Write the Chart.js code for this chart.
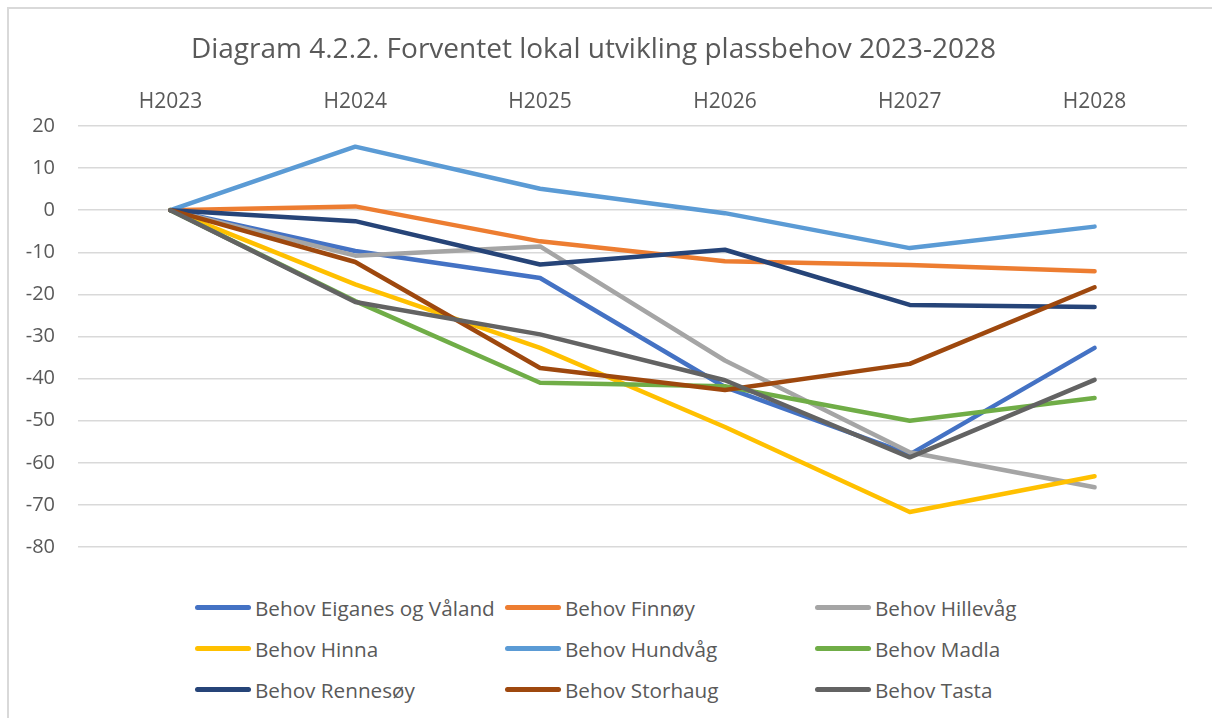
<!DOCTYPE html>
<html>
<head>
<meta charset="utf-8">
<script src="https://cdn.jsdelivr.net/npm/chart.js@4"></script>
<style>
    body { margin: 0; background: #fff; font-family: "Open Sans", sans-serif; }
    .frame { position: absolute; left: 7px; top: 7px; width: 1210px; height: 720px;
             border-left: 2px solid #d9d9d9; border-top: 2px solid #d9d9d9; }
    #plassChart { position: absolute; left: 0; top: 0; }
    #legend { position: absolute; left: 195px; top: 587px; display: grid;
              grid-template-columns: 310px 310px 310px; grid-auto-rows: 41px; }
    .item { display: flex; align-items: center; height: 41px; color: #595959; font-size: 20.7px; white-space: nowrap; }
    .swatch { width: 56px; height: 5px; border-radius: 3px; margin-right: 4px; }
</style>
</head>
<body>
<div class="frame"></div>
<canvas id="plassChart" width="1212" height="582"></canvas>
<div id="legend"></div>
<script>
const categories = ["H2023", "H2024", "H2025", "H2026", "H2027", "H2028"];

const eiganes  = [0, -9.7, -16.1, -42.0, -58.0, -32.7];
const finnoy   = [0, 0.9, -7.4, -12.1, -13.0, -14.5];
const hillevag = [0, -10.8, -8.6, -35.7, -57.5, -65.8];
const hinna    = [0, -17.6, -32.7, -51.5, -71.7, -63.2];
const hundvag  = [0, 15.1, 5.1, -0.7, -9.0, -3.9];
const madla    = [0, -21.6, -41.0, -41.8, -50.0, -44.6];
const rennesoy = [0, -2.6, -12.9, -9.4, -22.5, -23.0];
const storhaug = [0, -12.3, -37.5, -42.7, -36.5, -18.3];
const tasta    = [0, -21.8, -29.5, -40.4, -58.7, -40.3];

const yTicks = [20, 10, 0, -10, -20, -30, -40, -50, -60, -70, -80];

const series = [
    { label: "Behov Eiganes og Våland", data: eiganes, color: "#4472C4" },
    { label: "Behov Finnøy", data: finnoy, color: "#ED7D31" },
    { label: "Behov Hillevåg", data: hillevag, color: "#A5A5A5" },
    { label: "Behov Hinna", data: hinna, color: "#FFC000" },
    { label: "Behov Hundvåg", data: hundvag, color: "#5B9BD5" },
    { label: "Behov Madla", data: madla, color: "#70AD47" },
    { label: "Behov Rennesøy", data: rennesoy, color: "#264478" },
    { label: "Behov Storhaug", data: storhaug, color: "#9E480E" },
    { label: "Behov Tasta", data: tasta, color: "#636363" },
];

const textColor = "#595959";

new Chart(document.getElementById("plassChart"), {
    type: "line",
    data: {
        labels: categories,
        datasets: series.map((s, i) => ({
            label: s.label,
            data: s.data,
            borderColor: s.color,
            backgroundColor: s.color,
            borderWidth: 4.5,
            borderCapStyle: "round",
            borderJoinStyle: "round",
            pointRadius: 0,
            tension: 0,
            order: -i, // later series on top, like Excel
        })),
    },
    options: {
        responsive: false,
        animation: false,
        layout: { padding: { left: 0, right: 25, top: 0, bottom: 13 } },
        plugins: {
            legend: { display: false },
            tooltip: { enabled: false },
            title: {
                display: true,
                text: "Diagram 4.2.2. Forventet lokal utvikling plassbehov 2023-2028",
                color: textColor,
                font: { family: "Open Sans", size: 28, weight: "normal" },
                padding: { top: 33, bottom: 23.4 },
            },
        },
        scales: {
            x: {
                position: "top",
                offset: true,
                grid: { display: false, drawTicks: false, offset: true },
                border: { display: false },
                ticks: {
                    color: textColor,
                    font: { family: "Open Sans", size: 21 },
                    padding: 11.5,
                    maxRotation: 0,
                },
                afterFit: (scale) => { scale.height = 36; },
            },
            y: {
                min: -80,
                max: 20,
                grid: { color: "#d9d9d9", lineWidth: 1.5, drawTicks: false },
                border: { display: false },
                afterBuildTicks: (scale) => { scale.ticks = yTicks.map(v => ({ value: v })); },
                ticks: {
                    color: textColor,
                    font: { family: "Open Sans", size: 20 },
                    padding: 23,
                },
                afterFit: (scale) => { scale.width = 78; },
            },
        },
    },
});

// legend in three fixed columns
const legend = document.getElementById("legend");
series.forEach(s => {
    const item = document.createElement("div");
    item.className = "item";
    item.innerHTML = `<span class="swatch" style="background:${s.color}"></span><span>${s.label}</span>`;
    legend.appendChild(item);
});
</script>
</body>
</html>
